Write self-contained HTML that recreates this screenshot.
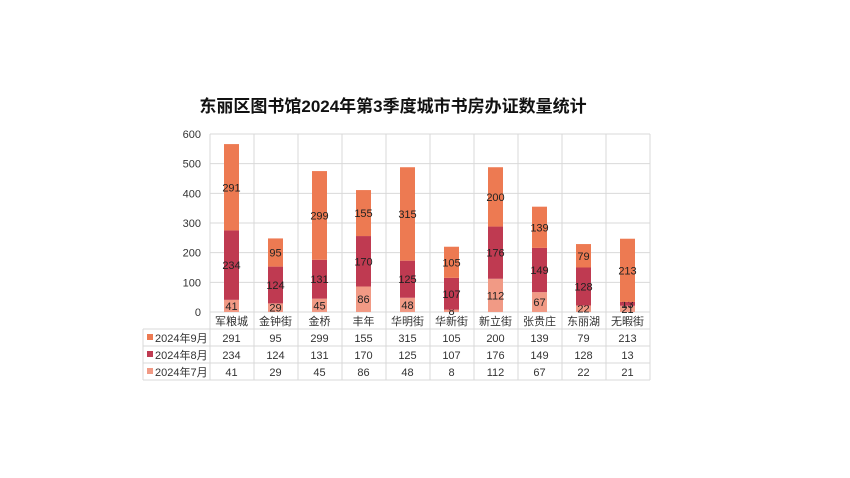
<!DOCTYPE html>
<html><head><meta charset="utf-8"><style>body{margin:0;background:#fff}svg{display:block}text{font-family:"Liberation Sans","Noto Sans CJK SC",sans-serif}</style></head><body>
<svg width="850" height="478" xmlns="http://www.w3.org/2000/svg" id="s"></svg>
<script>
const s=document.getElementById('s');
const cats=["军粮城","金钟街","金桥","丰年","华明街","华新街","新立街","张贵庄","东丽湖","无暇街"];
const sep=[291,95,299,155,315,105,200,139,79,213],aug=[234,124,131,170,125,107,176,149,128,13],jul=[41,29,45,86,48,8,112,67,22,21];
const C={sep:"#ED7A52",aug:"#BF3A51",jul:"#F19A85"};
let h='';
const L=210,W=44,Y0=312,k=178/600;
h+=`<text x="393" y="112" text-anchor="middle" font-size="17" font-weight="bold" fill="#111">东丽区图书馆2024年第3季度城市书房办证数量统计</text>`;
for(let i=0;i<=6;i++){const y=Y0-i*100*k;h+=`<line x1="${L}" x2="650" y1="${y}" y2="${y}" stroke="#d9d9d9"/>`;h+=`<text x="201" y="${y+4}" text-anchor="end" font-size="11" fill="#333">${i*100}</text>`;}
for(let i=0;i<=10;i++){const x=L+i*W;h+=`<line x1="${x}" x2="${x}" y1="134" y2="380" stroke="#d9d9d9"/>`;}
[329,346,363,380].forEach(y=>h+=`<line x1="143" x2="650" y1="${y}" y2="${y}" stroke="#d9d9d9"/>`);
h+=`<line x1="143" x2="143" y1="329" y2="380" stroke="#d9d9d9"/>`;
for(let i=0;i<10;i++){const cx=L+i*W+W/2-0.5,x=cx-7.5;
 let y=Y0;
 [[jul[i],C.jul],[aug[i],C.aug],[sep[i],C.sep]].forEach(([v,c])=>{const hh=v*k;h+=`<rect x="${x}" y="${y-hh}" width="15" height="${hh}" fill="${c}"/>`;h+=`<text x="${cx}" y="${y-hh/2+4}" text-anchor="middle" font-size="11" fill="#222">${v}</text>`;y-=hh;});
 h+=`<text x="${cx}" y="325" text-anchor="middle" font-size="11" fill="#333">${cats[i]}</text>`;
 [[sep,342],[aug,359],[jul,376]].forEach(([a,ty])=>h+=`<text x="${cx}" y="${ty}" text-anchor="middle" font-size="11" fill="#333">${a[i]}</text>`);
}
[["2024年9月",C.sep,342],["2024年8月",C.aug,359],["2024年7月",C.jul,376]].forEach(([t,c,ty])=>{h+=`<rect x="147" y="${ty-8}" width="6" height="6" fill="${c}"/><text x="155" y="${ty}" font-size="11" fill="#333">${t}</text>`;});
s.innerHTML=h;
</script></body></html>
